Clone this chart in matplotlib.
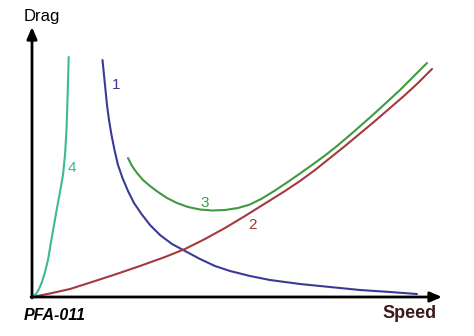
import matplotlib
matplotlib.use("Agg")
import matplotlib.pyplot as plt
import numpy as np

# Drag curves (arbitrary units, origin at the axes corner)
curve4_x = [0, 4, 7, 10, 13, 16, 19, 22, 25, 28, 31, 33, 34.5, 35.5, 36.2, 36.7]
curve4_y = [0, 3, 8, 15, 25, 37, 55, 72, 89, 105, 122, 142, 167, 197, 222, 240]

curve1_x = [70.5, 72, 73.5, 75, 77, 79.5, 82.5, 86, 90.5, 96, 102, 109.5, 118,
            128, 140, 153, 168, 183, 198, 218, 238, 268, 298, 328, 358, 385]
curve1_y = [237, 222, 207, 192, 177, 162, 147, 132, 119, 106, 94, 83, 72,
            62, 53, 46, 38, 31, 26, 21, 17, 13, 10, 7, 5, 3]

curve2_x = [0, 18, 38, 60, 83, 108, 133, 153, 173, 193, 213, 233, 253, 268,
            283, 298, 313, 328, 343, 358, 373, 386, 400]
curve2_y = [0, 3.5, 8, 15, 22.5, 31, 40, 48, 58, 69, 81, 93.5, 106, 116,
            127, 139, 151, 163.5, 176, 189, 202, 214, 228]

curve3_x = [96, 100, 105, 111, 118, 126, 135, 145, 156, 168, 180, 193, 206,
            218, 230, 243, 255, 268, 280, 293, 305, 318, 330, 343, 355, 368,
            381, 395]
curve3_y = [139, 131, 124, 117, 111, 105, 99, 94, 90, 87.5, 86.5, 87, 89,
            92.5, 98.5, 106.5, 114.5, 123.5, 132, 141.5, 151, 162, 172.5, 184,
            195, 207, 220, 234]

curves = [
    (curve1_x, curve1_y, "#3b3a96", "1", (84, 212)),
    (curve2_x, curve2_y, "#a33a3f", "2", (221, 72)),
    (curve3_x, curve3_y, "#3f9a3f", "3", (173, 94)),
    (curve4_x, curve4_y, "#3db898", "4", (40, 129)),
]

plt.rcParams["font.family"] = ["Liberation Sans", "DejaVu Sans"]

fig = plt.figure(figsize=(4.74, 3.36), dpi=100)
ax = fig.add_axes([0, 0, 1, 1])
ax.set_xlim(-32, 442)
ax.set_ylim(-39, 297)
ax.axis("off")

for x, y, color, label, pos in curves:
    ax.plot(x, y, color=color, lw=1.5, solid_capstyle="round",
            solid_joinstyle="round")
    ax.text(pos[0], pos[1], label, color=color, fontsize=11,
            ha="center", va="center")

# axes with arrows
arrow = dict(arrowstyle="-|>,head_length=0.7,head_width=0.3", color="black",
             lw=2, shrinkA=0, shrinkB=0)
ax.annotate("", xy=(0, 270), xytext=(0, -1), arrowprops=arrow)
ax.annotate("", xy=(410, 0), xytext=(-1, 0), arrowprops=arrow)

ax.text(10, 280, "Drag", fontsize=12, ha="center", va="center", color="black")
ax.text(378, -17, "Speed", fontsize=13, fontweight="bold", ha="center",
        va="center", color="#3a1a1a")
ax.text(23, -18, "PFA-011", fontsize=11.5, fontweight="bold", style="italic",
        ha="center", va="center", color="black")

fig.savefig("out.png", dpi=100)
